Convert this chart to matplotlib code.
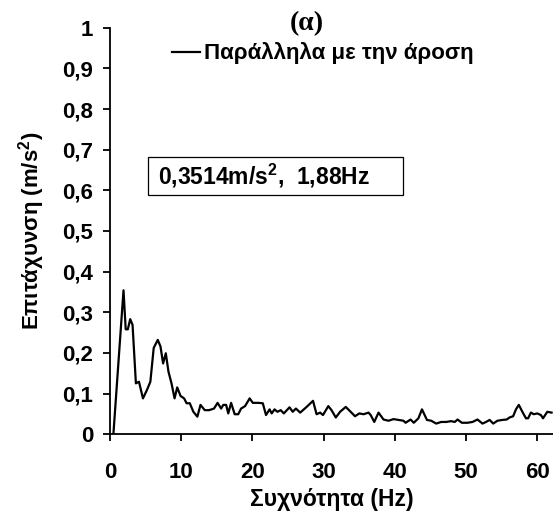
import matplotlib
matplotlib.use('Agg')
import matplotlib.pyplot as plt
from matplotlib.patches import Rectangle

plt.rcParams['font.family'] = 'Liberation Sans'
plt.rcParams['font.weight'] = 'bold'
plt.rcParams['mathtext.fontset'] = 'custom'
plt.rcParams['mathtext.rm'] = 'Liberation Sans:bold'
plt.rcParams['mathtext.bf'] = 'Liberation Sans:bold'
plt.rcParams['mathtext.default'] = 'bf'

# spectrum (Hz, m/s^2)
freq = [0.47, 1.89, 2.2, 2.5, 2.83, 3.16, 3.63, 4.06, 4.62, 5.19, 5.66, 6.13, 6.7,
        7.08, 7.45, 7.83, 8.2, 8.63, 9.06, 9.43, 9.9, 10.4, 10.75, 11.2, 11.7,
        12.26, 12.7, 13.3, 13.9, 14.6, 15.1, 15.6, 15.9, 16.3, 16.6, 17.0, 17.5,
        18.0, 18.4, 18.96, 19.6, 20.05, 20.84, 21.45, 21.9, 22.4, 22.7, 23.1,
        23.5, 23.97, 24.4, 25.2, 25.65, 26.1, 26.7, 27.6, 28.5, 29.0, 29.5, 29.9,
        30.65, 31.1, 31.7, 32.3, 33.1, 33.9, 34.4, 35.0, 35.6, 36.3, 36.6, 37.1,
        37.7, 38.4, 39.1, 39.8, 40.5, 41.2, 41.5, 42.2, 42.65, 43.3, 43.8, 44.5,
        45.1, 45.8, 46.5, 47.2, 47.9, 48.4, 48.8, 49.4, 50.2, 50.9, 51.6, 52.3,
        52.8, 53.3, 53.8, 54.4, 55.1, 55.7, 56.1, 56.6, 57.0, 57.4, 57.9, 58.4,
        58.7, 59.1, 59.5, 60.0, 60.5, 60.8, 61.4, 62.0]
accel = [0.0, 0.354, 0.258, 0.258, 0.283, 0.269, 0.125, 0.129, 0.088, 0.109, 0.129,
         0.212, 0.232, 0.216, 0.174, 0.199, 0.154, 0.125, 0.088, 0.115, 0.094,
         0.088, 0.076, 0.076, 0.055, 0.043, 0.072, 0.059, 0.059, 0.063, 0.077,
         0.063, 0.072, 0.072, 0.051, 0.077, 0.049, 0.049, 0.063, 0.069, 0.088,
         0.077, 0.077, 0.076, 0.047, 0.061, 0.051, 0.061, 0.055, 0.059, 0.051,
         0.066, 0.055, 0.063, 0.053, 0.067, 0.082, 0.049, 0.053, 0.047, 0.069,
         0.059, 0.041, 0.055, 0.067, 0.053, 0.044, 0.051, 0.049, 0.053, 0.047,
         0.030, 0.053, 0.036, 0.033, 0.037, 0.035, 0.033, 0.028, 0.036, 0.028,
         0.039, 0.061, 0.035, 0.033, 0.026, 0.030, 0.030, 0.032, 0.030, 0.036,
         0.028, 0.028, 0.030, 0.036, 0.026, 0.030, 0.035, 0.026, 0.033, 0.035,
         0.036, 0.041, 0.044, 0.061, 0.072, 0.055, 0.039, 0.039, 0.053, 0.049,
         0.051, 0.047, 0.039, 0.055, 0.053]

xticks = [0, 10, 20, 30, 40, 50, 60]
yticks = [0, 0.1, 0.2, 0.3, 0.4, 0.5, 0.6, 0.7, 0.8, 0.9, 1.0]
ytick_labels = ['0', '0,1', '0,2', '0,3', '0,4', '0,5', '0,6', '0,7', '0,8', '0,9', '1']

fig = plt.figure(figsize=(5.53, 5.15), dpi=100)
ax = fig.add_axes([0.199, 0.157, 0.801, 0.789])

ax.plot(freq, accel, color='black', linewidth=1.6, label='Παράλληλα με την άροση')

ax.set_xlim(0, 62.2)
ax.set_ylim(0, 1)
ax.set_xticks(xticks)
ax.set_yticks(yticks)
ax.set_yticklabels(ytick_labels)
ax.tick_params(axis='both', labelsize=16, direction='out', length=5, width=1.3)
ax.tick_params(axis='y', pad=7)
ax.tick_params(axis='x', pad=15)
for s in ['top', 'right']:
    ax.spines[s].set_visible(False)
for s in ['left', 'bottom']:
    ax.spines[s].set_linewidth(1.3)

ax.set_xlabel('Συχνότητα (Hz)', fontsize=16.5, fontweight='bold')
ax.xaxis.set_label_coords(0.5, -0.133)
ax.set_ylabel('Επιτάχυνση (m/s$^2$)', fontsize=16, fontweight='bold')
ax.yaxis.set_label_coords(-0.142, 0.5)

fig.text(0.555, 0.955, '(α)', family='Liberation Serif', fontsize=20,
         fontweight='bold', ha='center', va='center')

ax.legend(loc='center left', bbox_to_anchor=(0.14, 0.937), frameon=False,
          borderaxespad=0, borderpad=0, handlelength=1.27, handletextpad=0.15,
          prop={'weight': 'bold', 'size': 16})

ax.add_patch(Rectangle((0.0858, 0.589), 0.576, 0.0936, transform=ax.transAxes,
                       facecolor='white', edgecolor='black', linewidth=0.9))
ax.text(0.108, 0.635, '0,3514m/s$^2$,  1,88Hz', transform=ax.transAxes,
        fontsize=16.5, fontweight='bold', ha='left', va='center')

fig.savefig('out.png', dpi=100)
